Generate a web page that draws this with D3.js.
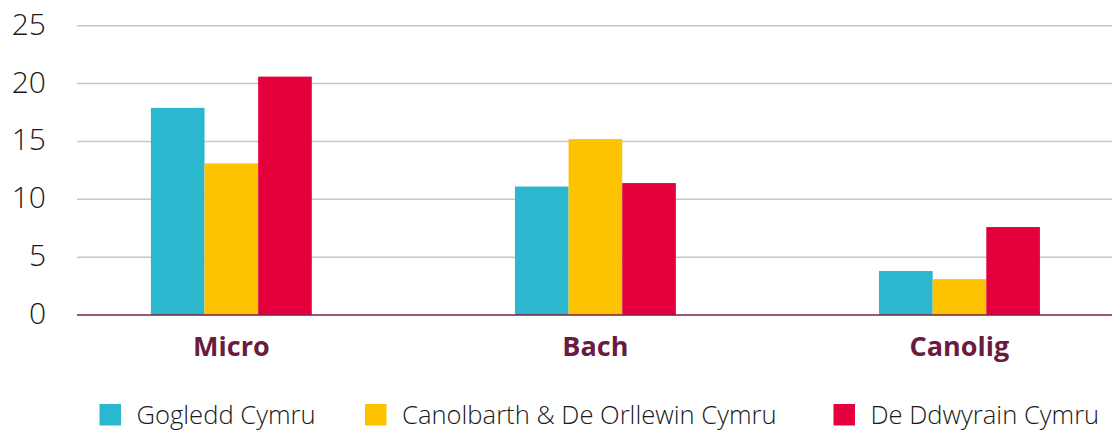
<!DOCTYPE html>
<html><head><meta charset="utf-8">
<script src="https://cdn.jsdelivr.net/npm/d3@7"></script>
<style>
html,body{margin:0;padding:0;background:#fff;}
svg{display:block;}
text{font-family:"Open Sans",sans-serif;}
</style></head>
<body>
<svg id="chart" width="1112" height="432"></svg>
<script>
const categories = ["Micro", "Bach", "Canolig"];
const seriesNames = ["Gogledd Cymru", "Canolbarth & De Orllewin Cymru", "De Ddwyrain Cymru"];
const seriesColors = ["#2bb7cd", "#fdc300", "#e4003d"];
const gogledd = [17.9, 11.1, 3.8];
const canolbarth = [13.1, 15.2, 3.1];
const deDdwyrain = [20.6, 11.4, 7.6];
const yTicks = [0, 5, 10, 15, 20, 25];

const seriesValues = [gogledd, canolbarth, deDdwyrain];
const svg = d3.select("#chart");

const plotLeft = 77, plotRight = 1112;
const y = d3.scaleLinear().domain([0, 25]).range([315, 25.7]);
const x0 = d3.scaleBand().domain(categories).range([49.3, 1141.5]).paddingInner(0.558).paddingOuter(0.279);
const x1 = d3.scaleBand().domain(d3.range(seriesNames.length)).range([0, x0.bandwidth()]);

// gridlines
svg.append("g").selectAll("line").data(yTicks.filter(d => d > 0)).join("line")
  .attr("x1", plotLeft).attr("x2", plotRight)
  .attr("y1", d => y(d)).attr("y2", d => y(d))
  .attr("stroke", "#c3c6cd").attr("stroke-width", 1.5);

// y labels
svg.append("g").selectAll("text").data(yTicks).join("text")
  .attr("x", 46).attr("y", d => y(d)).attr("dy", "0.3em")
  .attr("text-anchor", "end")
  .attr("font-size", 30).attr("font-weight", 300).attr("fill", "#1a1a1a")
  .text(d => d);

// bars
const groups = svg.append("g").selectAll("g").data(categories).join("g")
  .attr("transform", d => `translate(${x0(d)},0)`);
groups.selectAll("rect").data((c, ci) => seriesValues.map((s, si) => ({si, v: s[ci]}))).join("rect")
  .attr("x", d => x1(d.si)).attr("width", x1.bandwidth())
  .attr("y", d => y(d.v)).attr("height", d => y(0) - y(d.v))
  .attr("fill", d => seriesColors[d.si]);

// baseline
svg.append("line").attr("x1", plotLeft).attr("x2", plotRight)
  .attr("y1", y(0)).attr("y2", y(0))
  .attr("stroke", "#7a1f45").attr("stroke-width", 1.5);

// category labels
svg.append("g").selectAll("text").data(categories).join("text")
  .attr("x", d => x0(d) + x0.bandwidth() / 2).attr("y", 356)
  .attr("text-anchor", "middle")
  .attr("font-size", 27).attr("font-weight", 700).attr("fill", "#6a1b3f")
  .text(d => d);

// legend
const legendX = [99.5, 365, 833.5];
const leg = svg.append("g").selectAll("g").data(seriesNames).join("g")
  .attr("transform", (d, i) => `translate(${legendX[i]},404)`);
leg.append("rect").attr("width", 21.5).attr("height", 21.5).attr("fill", (d, i) => seriesColors[i]);
leg.append("text").attr("x", 37).attr("y", 20)
  .attr("font-size", 25.6).attr("font-weight", 300).attr("fill", "#1a1a1a")
  .text(d => d);
</script>
</body></html>
